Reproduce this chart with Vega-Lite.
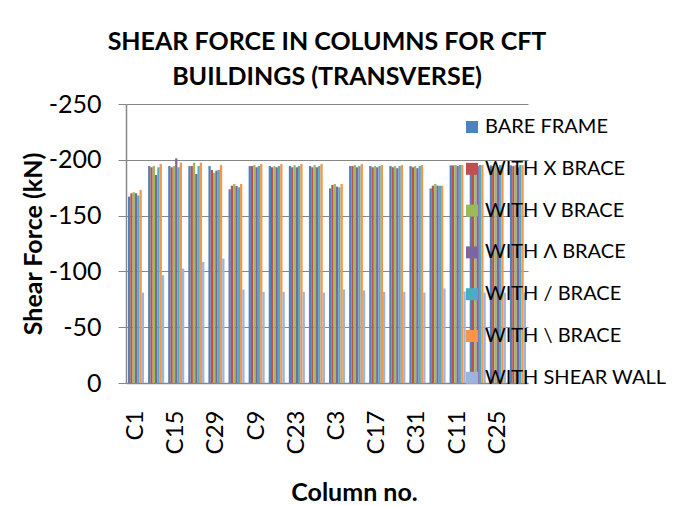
{
"$schema": "https://vega.github.io/schema/vega-lite/v6.json",
"autosize": {"type": "none"},
"width": 402, "height": 279,
"padding": {"left": 126, "top": 104, "right": 146, "bottom": 123},
"background": "white",
"title": {"text": ["SHEAR FORCE IN COLUMNS FOR CFT", "BUILDINGS (TRANSVERSE)"], "font": "Lato", "fontSize": 25, "fontWeight": "bold", "color": "black", "anchor": "middle", "offset": 2, "lineHeight": 35},
"data": {"values": [
{"c":"C1","s":"BARE FRAME","v":-167},{"c":"C1","s":"WITH X BRACE","v":-170},{"c":"C1","s":"WITH V BRACE","v":-171},{"c":"C1","s":"WITH Λ BRACE","v":-170},{"c":"C1","s":"WITH / BRACE","v":-168},{"c":"C1","s":"WITH \\ BRACE","v":-173},{"c":"C1","s":"WITH SHEAR WALL","v":-81},
{"c":"C8","s":"BARE FRAME","v":-194.4},{"c":"C8","s":"WITH X BRACE","v":-193.3},{"c":"C8","s":"WITH V BRACE","v":-194.4},{"c":"C8","s":"WITH Λ BRACE","v":-186.4},{"c":"C8","s":"WITH / BRACE","v":-193.3},{"c":"C8","s":"WITH \\ BRACE","v":-196.2},{"c":"C8","s":"WITH SHEAR WALL","v":-96.5},
{"c":"C15","s":"BARE FRAME","v":-194.4},{"c":"C15","s":"WITH X BRACE","v":-193.3},{"c":"C15","s":"WITH V BRACE","v":-194.4},{"c":"C15","s":"WITH Λ BRACE","v":-201.3},{"c":"C15","s":"WITH / BRACE","v":-193.3},{"c":"C15","s":"WITH \\ BRACE","v":-197.4},{"c":"C15","s":"WITH SHEAR WALL","v":-102.5},
{"c":"C22","s":"BARE FRAME","v":-194.4},{"c":"C22","s":"WITH X BRACE","v":-194.4},{"c":"C22","s":"WITH V BRACE","v":-197.4},{"c":"C22","s":"WITH Λ BRACE","v":-187.3},{"c":"C22","s":"WITH / BRACE","v":-194.4},{"c":"C22","s":"WITH \\ BRACE","v":-197.4},{"c":"C22","s":"WITH SHEAR WALL","v":-108.5},
{"c":"C29","s":"BARE FRAME","v":-194.4},{"c":"C29","s":"WITH X BRACE","v":-190.9},{"c":"C29","s":"WITH V BRACE","v":-188.4},{"c":"C29","s":"WITH Λ BRACE","v":-190.3},{"c":"C29","s":"WITH / BRACE","v":-191},{"c":"C29","s":"WITH \\ BRACE","v":-195.3},{"c":"C29","s":"WITH SHEAR WALL","v":-111.5},
{"c":"C2","s":"BARE FRAME","v":-173.6},{"c":"C2","s":"WITH X BRACE","v":-176.8},{"c":"C2","s":"WITH V BRACE","v":-178.3},{"c":"C2","s":"WITH Λ BRACE","v":-176.5},{"c":"C2","s":"WITH / BRACE","v":-175.3},{"c":"C2","s":"WITH \\ BRACE","v":-178.3},{"c":"C2","s":"WITH SHEAR WALL","v":-83.8},
{"c":"C9","s":"BARE FRAME","v":-194.4},{"c":"C9","s":"WITH X BRACE","v":-194.4},{"c":"C9","s":"WITH V BRACE","v":-195.3},{"c":"C9","s":"WITH Λ BRACE","v":-193.3},{"c":"C9","s":"WITH / BRACE","v":-194.4},{"c":"C9","s":"WITH \\ BRACE","v":-196.2},{"c":"C9","s":"WITH SHEAR WALL","v":-81.7},
{"c":"C16","s":"BARE FRAME","v":-194.4},{"c":"C16","s":"WITH X BRACE","v":-193.3},{"c":"C16","s":"WITH V BRACE","v":-194.4},{"c":"C16","s":"WITH Λ BRACE","v":-193.3},{"c":"C16","s":"WITH / BRACE","v":-194.4},{"c":"C16","s":"WITH \\ BRACE","v":-196.2},{"c":"C16","s":"WITH SHEAR WALL","v":-81.7},
{"c":"C23","s":"BARE FRAME","v":-194.4},{"c":"C23","s":"WITH X BRACE","v":-193.3},{"c":"C23","s":"WITH V BRACE","v":-195.3},{"c":"C23","s":"WITH Λ BRACE","v":-193.3},{"c":"C23","s":"WITH / BRACE","v":-194.4},{"c":"C23","s":"WITH \\ BRACE","v":-196.2},{"c":"C23","s":"WITH SHEAR WALL","v":-81.7},
{"c":"C30","s":"BARE FRAME","v":-194.4},{"c":"C30","s":"WITH X BRACE","v":-193.3},{"c":"C30","s":"WITH V BRACE","v":-195.3},{"c":"C30","s":"WITH Λ BRACE","v":-193.3},{"c":"C30","s":"WITH / BRACE","v":-194.4},{"c":"C30","s":"WITH \\ BRACE","v":-196.2},{"c":"C30","s":"WITH SHEAR WALL","v":-81},
{"c":"C3","s":"BARE FRAME","v":-174.4},{"c":"C3","s":"WITH X BRACE","v":-177.4},{"c":"C3","s":"WITH V BRACE","v":-178.3},{"c":"C3","s":"WITH Λ BRACE","v":-176},{"c":"C3","s":"WITH / BRACE","v":-175.3},{"c":"C3","s":"WITH \\ BRACE","v":-178.3},{"c":"C3","s":"WITH SHEAR WALL","v":-83.8},
{"c":"C10","s":"BARE FRAME","v":-194.4},{"c":"C10","s":"WITH X BRACE","v":-194.4},{"c":"C10","s":"WITH V BRACE","v":-195.3},{"c":"C10","s":"WITH Λ BRACE","v":-193.3},{"c":"C10","s":"WITH / BRACE","v":-194.4},{"c":"C10","s":"WITH \\ BRACE","v":-196.2},{"c":"C10","s":"WITH SHEAR WALL","v":-82.9},
{"c":"C17","s":"BARE FRAME","v":-194.4},{"c":"C17","s":"WITH X BRACE","v":-193.3},{"c":"C17","s":"WITH V BRACE","v":-194.4},{"c":"C17","s":"WITH Λ BRACE","v":-193.3},{"c":"C17","s":"WITH / BRACE","v":-194.4},{"c":"C17","s":"WITH \\ BRACE","v":-195.3},{"c":"C17","s":"WITH SHEAR WALL","v":-81.7},
{"c":"C24","s":"BARE FRAME","v":-194.4},{"c":"C24","s":"WITH X BRACE","v":-193.3},{"c":"C24","s":"WITH V BRACE","v":-194.4},{"c":"C24","s":"WITH Λ BRACE","v":-192.5},{"c":"C24","s":"WITH / BRACE","v":-194.4},{"c":"C24","s":"WITH \\ BRACE","v":-195.3},{"c":"C24","s":"WITH SHEAR WALL","v":-81.7},
{"c":"C31","s":"BARE FRAME","v":-194.4},{"c":"C31","s":"WITH X BRACE","v":-193.3},{"c":"C31","s":"WITH V BRACE","v":-194.4},{"c":"C31","s":"WITH Λ BRACE","v":-192.5},{"c":"C31","s":"WITH / BRACE","v":-194.4},{"c":"C31","s":"WITH \\ BRACE","v":-195.3},{"c":"C31","s":"WITH SHEAR WALL","v":-81},
{"c":"C4","s":"BARE FRAME","v":-174.4},{"c":"C4","s":"WITH X BRACE","v":-176.8},{"c":"C4","s":"WITH V BRACE","v":-178.3},{"c":"C4","s":"WITH Λ BRACE","v":-176.8},{"c":"C4","s":"WITH / BRACE","v":-176.8},{"c":"C4","s":"WITH \\ BRACE","v":-176.8},{"c":"C4","s":"WITH SHEAR WALL","v":-84.7},
{"c":"C11","s":"BARE FRAME","v":-195},{"c":"C11","s":"WITH X BRACE","v":-195},{"c":"C11","s":"WITH V BRACE","v":-195.3},{"c":"C11","s":"WITH Λ BRACE","v":-194.4},{"c":"C11","s":"WITH / BRACE","v":-195.3},{"c":"C11","s":"WITH \\ BRACE","v":-195.3},{"c":"C11","s":"WITH SHEAR WALL","v":-82},
{"c":"C18","s":"BARE FRAME","v":-195},{"c":"C18","s":"WITH X BRACE","v":-195},{"c":"C18","s":"WITH V BRACE","v":-195.3},{"c":"C18","s":"WITH Λ BRACE","v":-194.4},{"c":"C18","s":"WITH / BRACE","v":-195.3},{"c":"C18","s":"WITH \\ BRACE","v":-195.3},{"c":"C18","s":"WITH SHEAR WALL","v":-81},
{"c":"C25","s":"BARE FRAME","v":-195},{"c":"C25","s":"WITH X BRACE","v":-194.4},{"c":"C25","s":"WITH V BRACE","v":-195.3},{"c":"C25","s":"WITH Λ BRACE","v":-193.3},{"c":"C25","s":"WITH / BRACE","v":-195.3},{"c":"C25","s":"WITH \\ BRACE","v":-195.3},{"c":"C25","s":"WITH SHEAR WALL","v":-81},
{"c":"C32","s":"BARE FRAME","v":-195},{"c":"C32","s":"WITH X BRACE","v":-194.4},{"c":"C32","s":"WITH V BRACE","v":-195.3},{"c":"C32","s":"WITH Λ BRACE","v":-193.3},{"c":"C32","s":"WITH / BRACE","v":-195.3},{"c":"C32","s":"WITH \\ BRACE","v":-195.3},{"c":"C32","s":"WITH SHEAR WALL","v":-81}
]},
"mark": {"type": "bar"},
"encoding": {
  "x": {"field": "c", "type": "nominal",
    "sort": ["C1","C8","C15","C22","C29","C2","C9","C16","C23","C30","C3","C10","C17","C24","C31","C4","C11","C18","C25","C32"],
    "scale": {"paddingInner": 0.2, "paddingOuter": 0.1},
    "axis": {"values": ["C1","C15","C29","C9","C23","C3","C17","C31","C11","C25"], "labelAngle": -90, "ticks": false, "labelPadding": 27, "labelFont": "Lato", "labelFontSize": 24, "labelColor": "black", "domainColor": "#868686", "domainWidth": 1.5, "title": "Column no.", "titleFont": "Lato", "titleFontSize": 25, "titleFontWeight": "bold", "titleColor": "black", "titleX": 228, "titleY": 109, "titleBaseline": "middle", "titleAlign": "center"}},
  "xOffset": {"field": "s", "type": "nominal", "sort": ["BARE FRAME","WITH X BRACE","WITH V BRACE","WITH Λ BRACE","WITH / BRACE","WITH \\ BRACE","WITH SHEAR WALL"]},
  "y": {"field": "v", "type": "quantitative",
    "scale": {"domain": [-250, 0], "reverse": true, "nice": false},
    "axis": {"values": [-250,-200,-150,-100,-50,0], "labelExpr": "datum.value == 0 ? '0' : '-' + abs(datum.value)", "labelFont": "Lato", "labelFontSize": 25, "labelColor": "black", "labelPadding": 17, "tickSize": 8, "tickColor": "#868686", "domainColor": "#868686", "domainWidth": 1.5, "grid": true, "gridColor": "#868686", "gridWidth": 1.2, "title": "Shear Force (kN)", "titleFont": "Lato", "titleFontSize": 25, "titleFontWeight": "bold", "titleColor": "black", "titleX": -93, "titleBaseline": "middle", "titleAngle": -90}},
  "color": {"field": "s", "type": "nominal",
    "scale": {"domain": ["BARE FRAME","WITH X BRACE","WITH V BRACE","WITH Λ BRACE","WITH / BRACE","WITH \\ BRACE","WITH SHEAR WALL"],
              "range": ["#4F81BD","#C0504D","#9BBB59","#8064A2","#4BACC6","#F79646","#9DB4DD"]},
    "legend": {"title": null, "orient": "none", "legendX": 336, "legendY": 13, "padding": 0, "symbolType": "square", "symbolSize": 144, "symbolStrokeWidth": 0, "labelFont": "Lato", "labelFontSize": 20, "labelColor": "black", "labelOffset": 3, "rowPadding": 21.8, "labelLimit": 300}}
},
"config": {"view": {"stroke": null}}
}
